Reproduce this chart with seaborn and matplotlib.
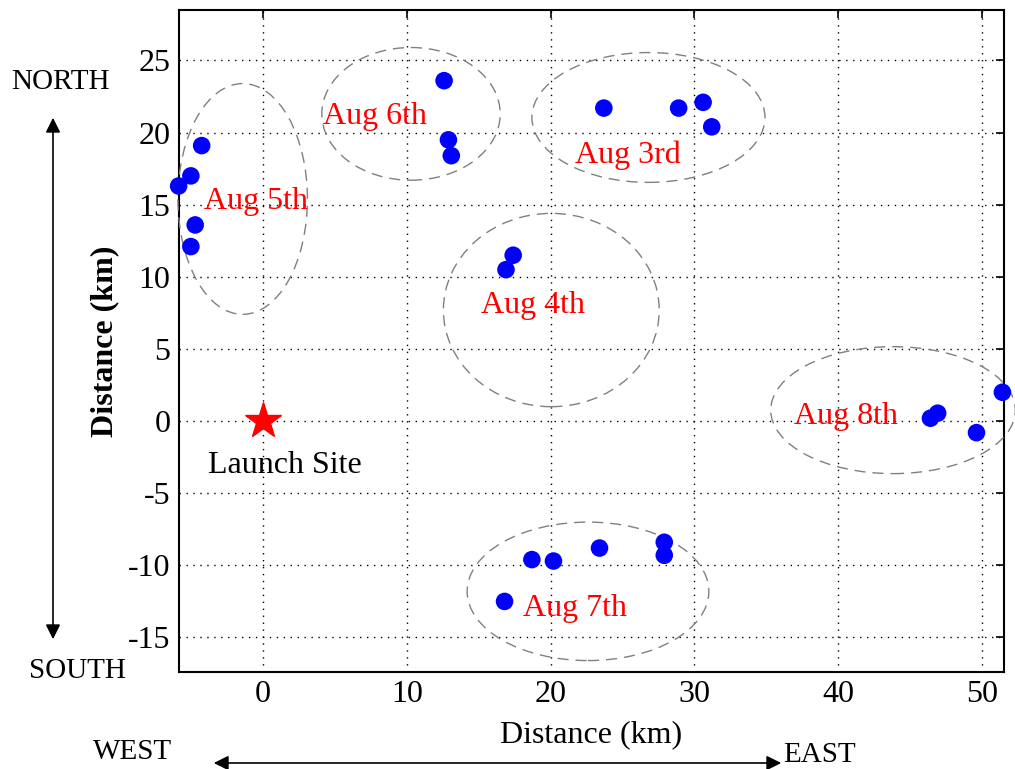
import matplotlib
matplotlib.use("Agg")
import matplotlib.pyplot as plt
from matplotlib.patches import Ellipse, FancyArrowPatch
import pandas as pd
import seaborn as sns

# ---------------------------------------------------------------------------
# Données (km par rapport au site de lancement)
# ---------------------------------------------------------------------------
days = ["Aug 3rd"] * 4 + ["Aug 4th"] * 2 + ["Aug 5th"] * 5 + ["Aug 6th"] * 3 \
    + ["Aug 7th"] * 6 + ["Aug 8th"] * 4
east_km = [23.7, 28.9, 30.6, 31.2,
           17.4, 16.9,
           -5.85, -5.0, -4.25, -4.7, -5.0,
           12.6, 12.9, 13.1,
           16.8, 18.7, 20.2, 23.4, 27.9, 27.9,
           46.4, 46.9, 49.6, 51.4]
north_km = [21.7, 21.7, 22.1, 20.4,
            11.5, 10.5,
            16.3, 17.0, 19.1, 13.6, 12.1,
            23.6, 19.5, 18.4,
            -12.5, -9.6, -9.7, -8.8, -8.4, -9.3,
            0.2, 0.55, -0.8, 2.0]

# ellipses entourant chaque journée : centre x, centre y, demi-axes
ell_names = ["Aug 3rd", "Aug 4th", "Aug 5th", "Aug 6th", "Aug 7th", "Aug 8th"]
ell_cx = [26.8, 20.05, -1.4, 10.3, 22.6, 43.8]
ell_cy = [21.05, 7.7, 15.4, 21.3, -11.8, 0.76]
ell_rx = [8.1, 7.5, 4.5, 6.2, 8.4, 8.5]
ell_ry = [4.5, 6.7, 8.0, 4.6, 4.8, 4.4]

# position des étiquettes rouges
label_x = [25.4, 18.8, -0.5, 7.8, 21.7, 40.5]
label_y = [18.4, 8.0, 15.2, 21.1, -13.0, 0.3]

df = pd.DataFrame({"day": days, "east": east_km, "north": north_km})

# ---------------------------------------------------------------------------
# Figure
# ---------------------------------------------------------------------------
sns.set_style("white")
plt.rcParams["font.family"] = ["Liberation Serif", "DejaVu Serif"]
plt.rcParams["axes.unicode_minus"] = False
for key in ("text.color", "axes.labelcolor", "xtick.color", "ytick.color"):
    plt.rcParams[key] = "black"

fig = plt.figure(figsize=(10.15, 7.69), dpi=100)
ax = fig.add_axes([0.176, 0.126, 0.813, 0.861])

sns.scatterplot(data=df, x="east", y="north", color="#0000ff", s=160,
                edgecolor="none", legend=False, ax=ax, zorder=4, clip_on=False)

for name, cx, cy, rx, ry in zip(ell_names, ell_cx, ell_cy, ell_rx, ell_ry):
    ax.add_patch(Ellipse((cx, cy), 2 * rx, 2 * ry, fill=False,
                         edgecolor="#808080", lw=1.0, ls=(0, (8, 5)),
                         clip_on=False, zorder=3))

for name, lx, ly in zip(ell_names, label_x, label_y):
    ax.text(lx, ly, name, color="red", fontsize=23, ha="center", va="center",
            zorder=5)

# site de lancement
ax.plot([0], [0], marker="*", color="red", markersize=27, ls="none", zorder=5)
ax.text(1.5, -3.1, "Launch Site", fontsize=23, ha="center", va="center")

ax.set_xlim(-5.85, 51.5)
ax.set_ylim(-17.4, 28.5)
ax.set_xticks(range(0, 51, 10))
ax.set_yticks(range(-15, 26, 5))
ax.grid(True, color="black", ls=(0, (1, 4)), lw=1.0)
ax.tick_params(direction="in", length=6, width=1.2, labelsize=23, pad=6,
               top=True, right=True)
for sp in ax.spines.values():
    sp.set_color("black")
    sp.set_linewidth(1.5)
ax.set_xlabel("Distance (km)", fontsize=23, labelpad=8)
ax.set_ylabel("Distance (km)", fontsize=23, fontweight="bold", labelpad=6)

# flèches de direction
fig.text(60 / 1015, 1 - 82 / 769, "NORTH", fontsize=21, ha="center", va="center")
fig.text(77 / 1015, 1 - 671 / 769, "SOUTH", fontsize=21, ha="center", va="center")
fig.text(133 / 1015, 1 - 752 / 769, "WEST", fontsize=21, ha="center", va="center")
fig.text(820 / 1015, 1 - 755 / 769, "EAST", fontsize=21, ha="center", va="center")
fig.patches.append(FancyArrowPatch(
    (53 / 1015, 1 - 115 / 769), (53 / 1015, 1 - 642 / 769),
    transform=fig.transFigure, arrowstyle="<|-|>", mutation_scale=22,
    color="black", lw=1.2))
fig.patches.append(FancyArrowPatch(
    (211 / 1015, 1 - 763 / 769), (784 / 1015, 1 - 763 / 769),
    transform=fig.transFigure, arrowstyle="<|-|>", mutation_scale=22,
    color="black", lw=1.2))

plt.savefig("out.png", dpi=100)
plt.close()
